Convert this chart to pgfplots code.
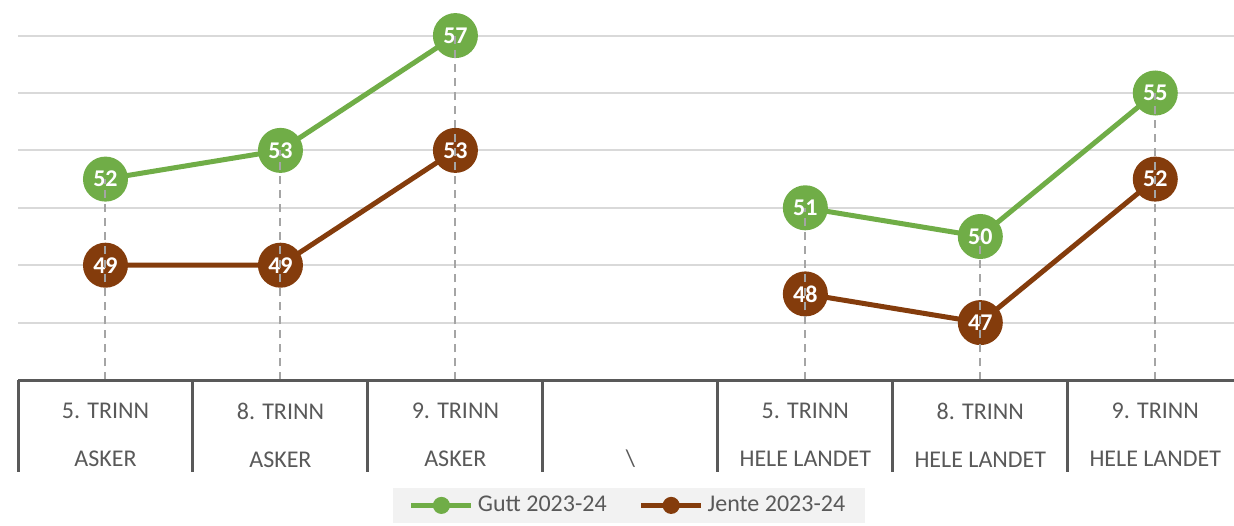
\documentclass[border=0pt]{standalone}
\usepackage{fontspec}
\setmainfont{Carlito}
\usepackage{pgfplots}
\pgfplotsset{compat=1.18}
\definecolor{gutt}{HTML}{70AD47}
\definecolor{jente}{HTML}{843C0C}
\definecolor{txt}{HTML}{595959}
\definecolor{gridc}{HTML}{D9D9D9}
\definecolor{tbl}{HTML}{595959}
\definecolor{drop}{HTML}{A5A5A5}

\begin{document}
\begin{tikzpicture}
\begin{axis}[
  name=ax,
  scale only axis, width=608pt, height=190pt,
  xmin=-0.5, xmax=6.45, ymin=45, ymax=58.24,
  axis line style={draw=none},
  ytick={47,49,...,57}, yticklabels={},
  ymajorgrids, grid style={gridc, line width=1pt},
  xtick={0,...,6},
  xticklabels={{5. TRINN\\ASKER},{8. TRINN\\ASKER},{9. TRINN\\ASKER},{\phantom{T}\\\textbackslash},
    {5. TRINN\\HELE LANDET},{8. TRINN\\HELE LANDET},{9. TRINN\\HELE LANDET}},
  major tick length=0pt,
  xticklabel style={font=\fontsize{12}{24}\selectfont, text=txt, align=center, yshift=-8pt},
  /pgf/number format/assume math mode=true,
  unbounded coords=jump,
  clip mode=individual,
  legend columns=2,
  legend style={at={(0.5025,-0.33)}, anchor=center, fill=black!5, draw=none,
    font=\fontsize{12}{14}\selectfont, text=txt, inner xsep=8pt, inner ysep=2pt,
    /tikz/every even column/.append style={column sep=14pt}},
  after end axis/.code={
    \foreach \x in {-0.5,0.5,...,5.5}
      \draw[tbl, line width=1.5pt] (axis cs:\x,45) -- ++(0,-46pt);
    \draw[tbl, line width=1.5pt] (rel axis cs:0,0) -- (rel axis cs:1,0);
  },
]
% Gutt 2023-24
\addplot[gutt, line width=2.5pt, mark=*, mark size=10pt,
  mark options={solid, fill=gutt, draw=gutt},
  nodes near coords,
  every node near coord/.append style={anchor=center, text=white, font=\bfseries\fontsize{12}{14}\selectfont},
  legend image code/.code={
    \draw[gutt, line width=2.5pt] (0pt,0pt) -- (30pt,0pt);
    \fill[gutt] (15pt,0pt) circle (3pt);}]
  coordinates {(0,52) (1,53) (2,57) (3,nan) (4,51) (5,50) (6,55)};
\addlegendentry{Gutt 2023-24}
% Jente 2023-24
\addplot[jente, line width=2.5pt, mark=*, mark size=10pt,
  mark options={solid, fill=jente, draw=jente},
  nodes near coords,
  every node near coord/.append style={anchor=center, text=white, font=\bfseries\fontsize{12}{14}\selectfont},
  legend image code/.code={
    \draw[jente, line width=2.5pt] (0pt,0pt) -- (30pt,0pt);
    \fill[jente] (15pt,0pt) circle (3pt);}]
  coordinates {(0,49) (1,49) (2,53) (3,nan) (4,48) (5,47) (6,52)};
\addlegendentry{Jente 2023-24}
% drop lines
\addplot[ycomb, drop, line width=1pt, dash pattern=on 4pt off 3pt, mark=none, forget plot]
  coordinates {(0,52) (1,53) (2,57) (4,51) (5,50) (6,55)};
\addplot[ycomb, drop, line width=1pt, dash pattern=on 4pt off 3pt, mark=none, forget plot]
  coordinates {(0,49) (1,49) (2,53) (4,48) (5,47) (6,52)};
\end{axis}
\pgfresetboundingbox
\path (ax.south west) ++(-9pt,190pt) rectangle ++(617pt,-262.5pt);
\end{tikzpicture}
\end{document}
